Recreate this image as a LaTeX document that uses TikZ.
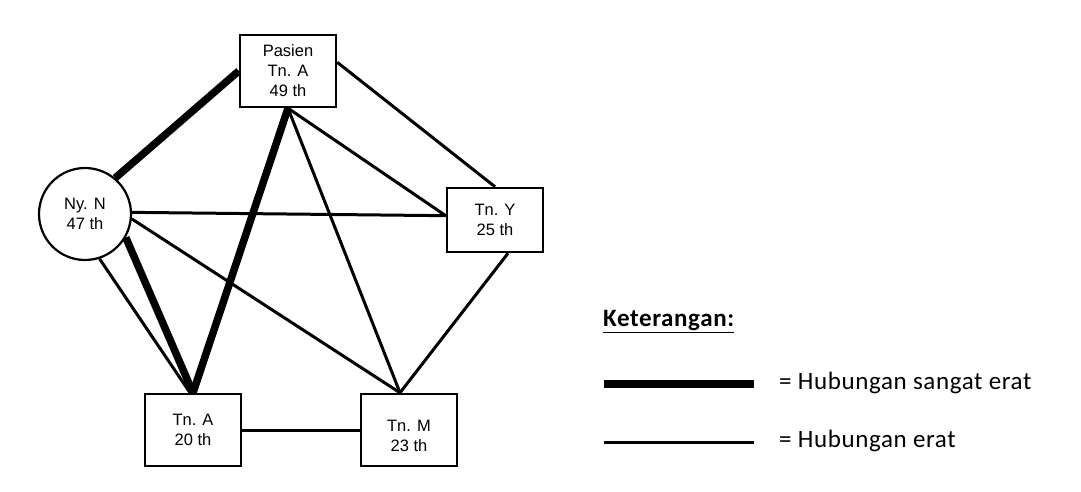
\documentclass[tikz,border=0pt]{standalone}
\usepackage{fontspec}
\setmainfont{Liberation Sans}
\newfontfamily\legendfont[LetterSpace=2.5]{Carlito}

\begin{document}
\begin{tikzpicture}[x=1pt,y=-1pt,
    person/.style={draw, line width=2.5pt, minimum width=96pt, minimum height=72pt,
        align=center, inner sep=0pt, font=\fontsize{16.5}{20}\selectfont},
    circ/.style={draw, circle, line width=2.2pt, minimum size=92pt,
        align=center, inner sep=0pt, font=\fontsize{16.5}{20}\selectfont},
    erat/.style={line width=3pt},
    sangat/.style={line width=7.5pt},
    legend/.style={anchor=west, inner sep=0pt, font=\legendfont\fontsize{25}{28}\selectfont}]
            \useasboundingbox (0,0) rectangle (1081,492);
            \node[person] (pa) at (288,71) {Pasien\\Tn. A\\49 th};
            \node[circ] (nn) at (85,214) {Ny. N\\47 th};
            \node[person, minimum height=64pt] (ty) at (495,220) {Tn. Y\\25 th};
            \node[person] (ta) at (193,430) {Tn. A\\20 th};
            \node[person] (tm) at (409,430) {\rule{0pt}{24pt}Tn. M\\23 th};
            \draw[sangat] (nn.50) -- (pa.west);
            \draw[sangat] (pa.south) -- (ta.north);
            \draw[sangat] (nn.-30) -- (ta.north);
            \draw[erat] (nn.-72) -- ([xshift=-3pt]ta.north);
            \draw[erat] (pa.10) -- (ty.north);
            \draw[erat] (pa.south) -- (ty.175);
            \draw[erat] (pa.south) -- ([xshift=-9pt]tm.north);
            \draw[erat] (nn.2) -- (ty.175);
            \draw[erat] (nn.-6) -- ([xshift=-9pt]tm.north);
            \draw[erat] ([xshift=13pt]ty.south) -- ([xshift=-9pt]tm.north);
            \draw[erat] (ta.east) -- (tm.west);
            % keterangan
            \node[legend] (ket) at (603,322) {\textbf{\underline{Keterangan:}}};
            \draw[sangat] (604,384) -- (754,384);
            \draw[erat] (604,442) -- (754,442);
            \node[legend] (sangatlbl) at (779,383) {= Hubungan sangat erat};
            \node[legend] (eratlbl) at (779,441) {= Hubungan erat};
\end{tikzpicture}
\end{document}
